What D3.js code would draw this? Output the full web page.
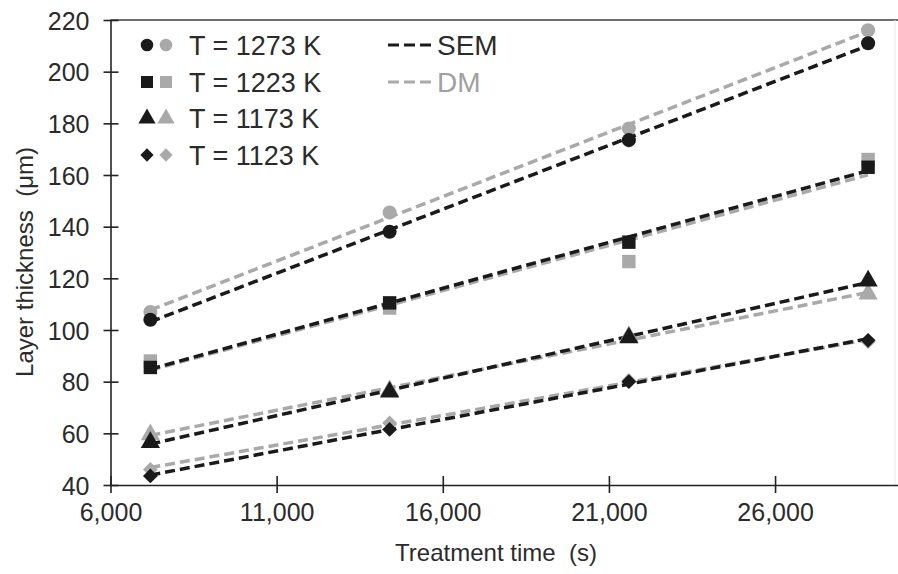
<!DOCTYPE html>
<html><head><meta charset="utf-8">
<script src="https://cdn.jsdelivr.net/npm/d3@7"></script>
<style>
html,body{margin:0;padding:0;background:#fff;}
svg{display:block;}
text{font-family:"Liberation Sans",Arial,sans-serif;fill:#2b2b2b;}
</style></head>
<body>
<svg id="chart" width="898" height="574"></svg>
<script>
// ---- data ----
const times = [7200, 14400, 21600, 28800];
const temps = ["T = 1273 K", "T = 1223 K", "T = 1173 K", "T = 1123 K"];
const shapes = ["circle", "square", "triangle", "diamond"];
const sem1273 = [104, 138, 173.5, 211];
const sem1223 = [85.5, 110.5, 134, 163];
const sem1173 = [56.5, 76, 97, 119];
const sem1123 = [43.5, 61.5, 80, 96];
const dm1273 = [107, 145.5, 178, 216];
const dm1223 = [88, 108.5, 126.5, 166];
const dm1173 = [59.5, 76.5, 97.5, 114];
const dm1123 = [46, 64, 80.5, 95.5];
const xTicks = [6000, 11000, 16000, 21000, 26000];
const yTicks = [40, 60, 80, 100, 120, 140, 160, 180, 200, 220];
const methods = ["SEM", "DM"];

const semSeries = [sem1273, sem1223, sem1173, sem1123];
const dmSeries = [dm1273, dm1223, dm1173, dm1123];

const BLACK = "#1a1a1a", GRAY = "#a9a9a9";

const svg = d3.select("#chart");
const x = d3.scaleLinear().domain([6000, 29700]).range([110.5, 898]);
const y = d3.scaleLinear().domain([40, 220]).range([485, 20]);

const symType = {circle: d3.symbolCircle, square: d3.symbolSquare, triangle: d3.symbolTriangle, diamond: d3.symbolSquare};
const symSize = {circle: 155, square: 180, triangle: 160, diamond: 110};
const symRot = {circle: 0, square: 0, triangle: 0, diamond: 45};

function fit(vals) {
  const mx = d3.mean(times), my = d3.mean(vals);
  let num = 0, den = 0;
  times.forEach((t, i) => { num += (t - mx) * (vals[i] - my); den += (t - mx) * (t - mx); });
  const b = num / den, a = my - b * mx;
  return t => a + b * t;
}

// frame lines
svg.append("line").attr("x1", x(6000)).attr("x2", 898).attr("y1", y(220)).attr("y2", y(220))
  .attr("stroke", "#6e6e6e").attr("stroke-width", 2);
svg.append("line").attr("x1", 895).attr("x2", 895).attr("y1", y(220)).attr("y2", y(40))
  .attr("stroke", "#e8e8e8").attr("stroke-width", 1);

// axes
const xAxis = svg.append("g").attr("transform", `translate(0,${y(40)})`)
  .call(d3.axisBottom(x).tickValues(xTicks).tickFormat(d3.format(",")).tickSizeInner(8).tickSizeOuter(0).tickPadding(10));
const yAxis = svg.append("g").attr("transform", `translate(${x(6000)},0)`)
  .call(d3.axisLeft(y).tickValues(yTicks).tickSizeInner(7).tickSizeOuter(0).tickPadding(14));
[xAxis, yAxis].forEach(g => {
  g.select(".domain").attr("stroke", "#222").attr("stroke-width", 1.6);
  g.selectAll(".tick line").attr("stroke", "#222").attr("stroke-width", 1.6);
  g.selectAll(".tick text").style("font-size", "25px").attr("fill", "#333")
    .style("font-family", '"Liberation Sans",Arial,sans-serif');
});
// ticks crossing the axis
xAxis.selectAll(".tick line").attr("y1", -9).attr("y2", 8);
yAxis.selectAll(".tick line").attr("x1", -7).attr("x2", 8);
xAxis.selectAll(".tick text").attr("dy", "0.71em");
yAxis.selectAll(".tick text").attr("dy", "0.36em");

// trend lines
const plot = svg.append("g");
function drawLines(series, color) {
  series.forEach(vals => {
    const f = fit(vals);
    plot.append("line")
      .attr("x1", x(times[0])).attr("y1", y(f(times[0])))
      .attr("x2", x(times[3])).attr("y2", y(f(times[3])))
      .attr("stroke", color).attr("stroke-width", 3.5).attr("stroke-dasharray", "10,5");
  });
}
drawLines(dmSeries, GRAY);
drawLines(semSeries, BLACK);

function drawPoints(series, color) {
  series.forEach((vals, k) => {
    const s = shapes[k];
    plot.selectAll(null).data(vals).enter().append("path")
      .attr("d", d3.symbol().type(symType[s]).size(symSize[s]))
      .attr("transform", (d, i) => `translate(${x(times[i])},${y(d)}) rotate(${symRot[s]})`)
      .attr("fill", color);
  });
}
drawPoints(dmSeries, GRAY);
drawPoints(semSeries, BLACK);

// legend
const leg = svg.append("g");
const rowY = [45, 82, 118.5, 155];
temps.forEach((t, k) => {
  const s = shapes[k];
  [BLACK, GRAY].forEach((c, j) => {
    leg.append("path")
      .attr("d", d3.symbol().type(symType[s]).size(symSize[s] * 0.8))
      .attr("transform", `translate(${147 + j * 19},${rowY[k]}) rotate(${symRot[s]})`)
      .attr("fill", c);
  });
  leg.append("text").attr("x", 189).attr("y", rowY[k]).attr("dy", "0.36em")
    .style("font-size", "27px").text(t);
});
methods.forEach((m, j) => {
  const c = j === 0 ? BLACK : GRAY;
  leg.append("line").attr("x1", 388).attr("x2", 434)
    .attr("y1", rowY[j]).attr("y2", rowY[j])
    .attr("stroke", c).attr("stroke-width", 3).attr("stroke-dasharray", "11,5");
  leg.append("text").attr("x", 437).attr("y", rowY[j]).attr("dy", "0.36em")
    .style("font-size", "28px").style("fill", j === 0 ? "#2b2b2b" : "#a0a0a0").text(m);
});

// axis titles
svg.append("text").attr("x", 496).attr("y", 561).attr("text-anchor", "middle")
  .style("font-size", "24px").attr("xml:space", "preserve").text("Treatment time  (s)");
svg.append("text").attr("transform", "translate(33,262) rotate(-90)").attr("text-anchor", "middle")
  .style("font-size", "24px").attr("xml:space", "preserve").text("Layer thickness  (μm)");
</script>
</body></html>
